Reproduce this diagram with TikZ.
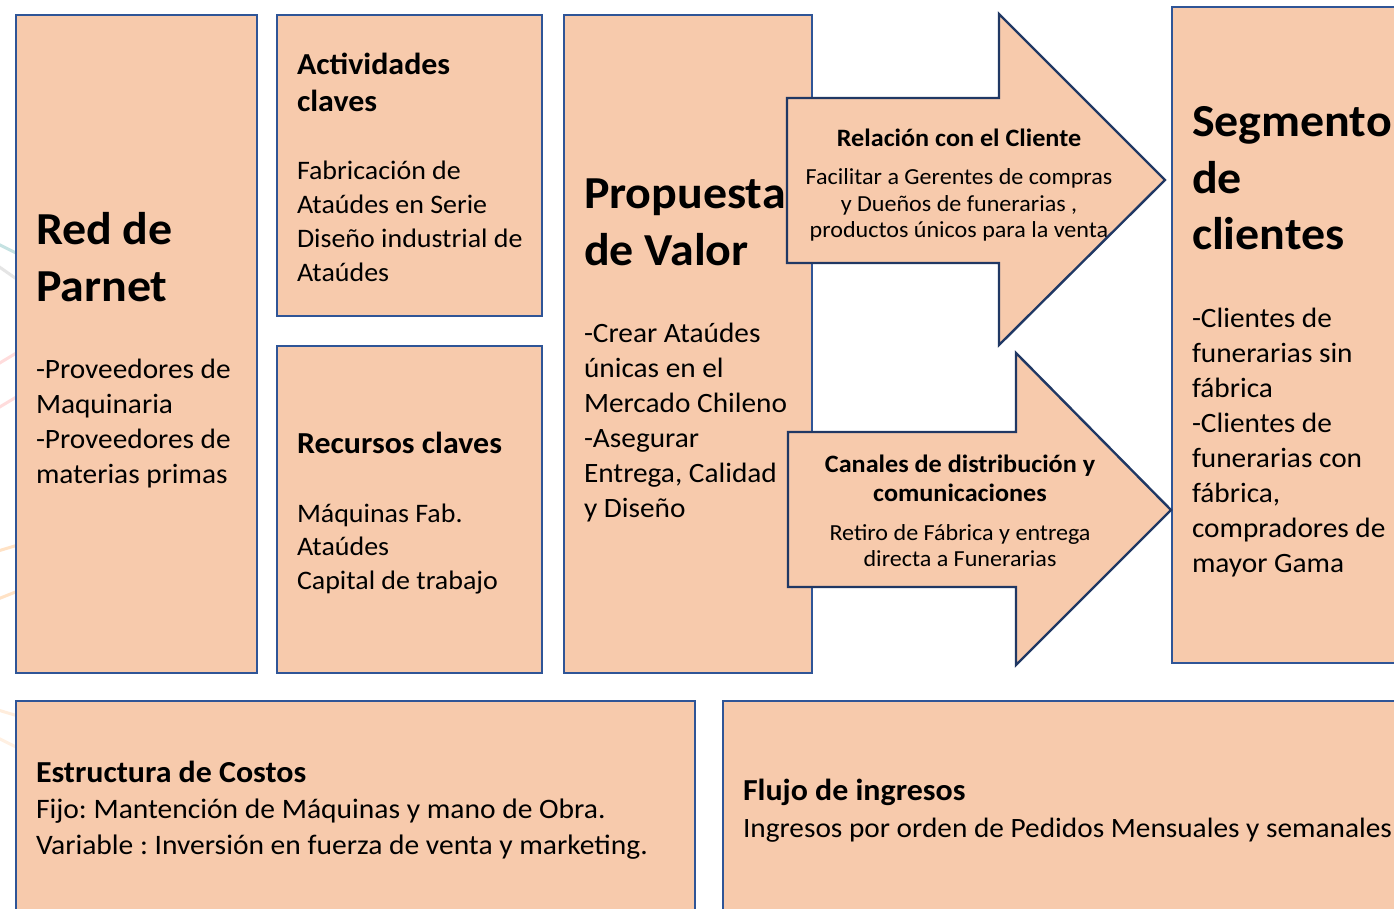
\documentclass[tikz,border=0pt]{standalone}
\usepackage{fontspec}
\setmainfont{Carlito}[FakeStretch=1.047]
\usepackage{array}
\definecolor{boxfill}{HTML}{F7CAAC}
\definecolor{boxline}{HTML}{2F5597}
\definecolor{arrline}{HTML}{203864}
\newcommand\linesL[1]{\begin{tabular}[t]{@{}l@{}}#1\end{tabular}}
\newcommand\linesC[1]{\begin{tabular}[t]{@{}c@{}}#1\end{tabular}}
\frenchspacing
\tikzset{
  cbox/.style={draw=boxline, fill=boxfill, line width=2.2pt},
  carrow/.style={draw=arrline, fill=boxfill, line width=2.4pt, line join=miter},
  txt/.style={anchor=base west, inner sep=0pt, outer sep=0pt},
  ctxt/.style={anchor=base, inner sep=0pt, outer sep=0pt},
  bighead/.style={font=\fontsize{45.8}{56.5}\selectfont\bfseries},
  head/.style={font=\fontsize{30.5}{37}\selectfont\bfseries},
  body/.style={font=\fontsize{28}{35}\selectfont},
  ahead/.style={font=\fontsize{25}{29}\selectfont\bfseries},
  abody/.style={font=\fontsize{23}{26.5}\selectfont},
  deco/.style={line width=3pt, opacity=0.45},
}
\begin{document}
\begin{tikzpicture}[x=1pt,y=-1pt]
\useasboundingbox (0,0) rectangle (1394,909);
\fill[white] (0,0) rectangle (1394,909);
% faint background decoration at the left edge
\draw[deco, color=teal!50] (-2,244) -- (18,254);
\draw[deco, color=gray!45] (-2,266) -- (18,280);
\draw[deco, color=red!30] (-2,364) -- (18,352);
\draw[deco, color=red!30] (-2,408) -- (18,396);
\draw[deco, color=orange!50] (-2,551) -- (18,545);
\draw[deco, color=orange!50] (-2,599) -- (18,591);
\draw[deco, color=orange!30] (-2,710) -- (18,716);
\draw[deco, color=orange!25] (-2,738) -- (18,748);

% boxes
\path[cbox] (16,15) rectangle (257,673);
\path[cbox] (277,15) rectangle (542,316);
\path[cbox] (277,346) rectangle (542,673);
\path[cbox] (564,15) rectangle (812,673);
\path[cbox] (1172,7) rectangle (1404,663);
\path[cbox] (16,701) rectangle (695,925);
\path[cbox] (723,701) rectangle (1404,925);

% arrows
\path[carrow] (787,98) -- (999,98) -- (999,14) -- (1165,180) -- (999,345) -- (999,263) -- (787,263) -- cycle;
\path[carrow] (788,432) -- (1016,432) -- (1016,353) -- (1171,510) -- (1016,665) -- (1016,587) -- (788,587) -- cycle;

% Red de Parnet
\node[txt, bighead] (redh) at (36,245) {\linesL{Red de\\Parnet}};
\node[txt, body] (redb) at (36,378) {\linesL{-Proveedores de\\Maquinaria\\-Proveedores de\\materias primas}};

% Actividades claves
\node[txt, head] (acth) at (297,75) {\linesL{Actividades\\claves}};
\node[txt, font=\fontsize{26.7}{34}\selectfont] (actb) at (297,180) {\linesL{Fabricación de\\Ataúdes en Serie\\Diseño industrial de\\Ataúdes}};

% Recursos claves
\node[txt, head] (rech) at (297,453) {Recursos claves};
\node[txt, font=\fontsize{26.7}{33.5}\selectfont] (recb) at (297,522) {\linesL{Máquinas Fab.\\Ataúdes\\Capital de trabajo}};

% Propuesta de Valor
\node[txt, bighead] (proph) at (584,209) {\linesL{Propuesta\\de Valor}};
\node[txt, body] (propb) at (584,342) {\linesL{-Crear Ataúdes\\únicas en el\\Mercado Chileno\\-Asegurar\\Entrega, Calidad\\y Diseño}};

% Relación con el Cliente
\node[ctxt, ahead] (relh) at (959,147) {Relación con el Cliente};
\node[ctxt, abody] (relb) at (959,185) {\linesC{Facilitar a Gerentes de compras\\y Dueños de funerarias ,\\ productos únicos para la venta}};

% Canales
\node[ctxt, ahead] (canh) at (960,472) {\linesC{Canales de distribución y\\comunicaciones}};
\node[ctxt, abody] (canb) at (960,540) {\linesC{Retiro de Fábrica y entrega\\directa a Funerarias}};

% Segmento de clientes
\node[txt, bighead] (segh) at (1192,137) {\linesL{Segmento\\de\\clientes}};
\node[txt, body] (segb) at (1192,327) {\linesL{-Clientes de\\funerarias sin\\fábrica\\-Clientes de\\funerarias con\\fábrica,\\compradores de\\mayor Gama}};

% Estructura de Costos
\node[txt, font=\fontsize{30.5}{36}\selectfont\bfseries] (costh) at (36,782) {Estructura de Costos};
\node[txt, font=\fontsize{28.2}{36}\selectfont] (costb) at (36,818) {\linesL{Fijo: Mantención de Máquinas y mano de Obra.\\Variable : Inversión en fuerza de venta y marketing.}};

% Flujo de ingresos
\node[txt, font=\fontsize{30.5}{36}\selectfont\bfseries] (fluh) at (743,800) {Flujo de ingresos};
\node[txt, font=\fontsize{28}{36}\selectfont] (flub) at (743,837) {Ingresos por orden de Pedidos Mensuales y semanales};
\end{tikzpicture}
\end{document}
